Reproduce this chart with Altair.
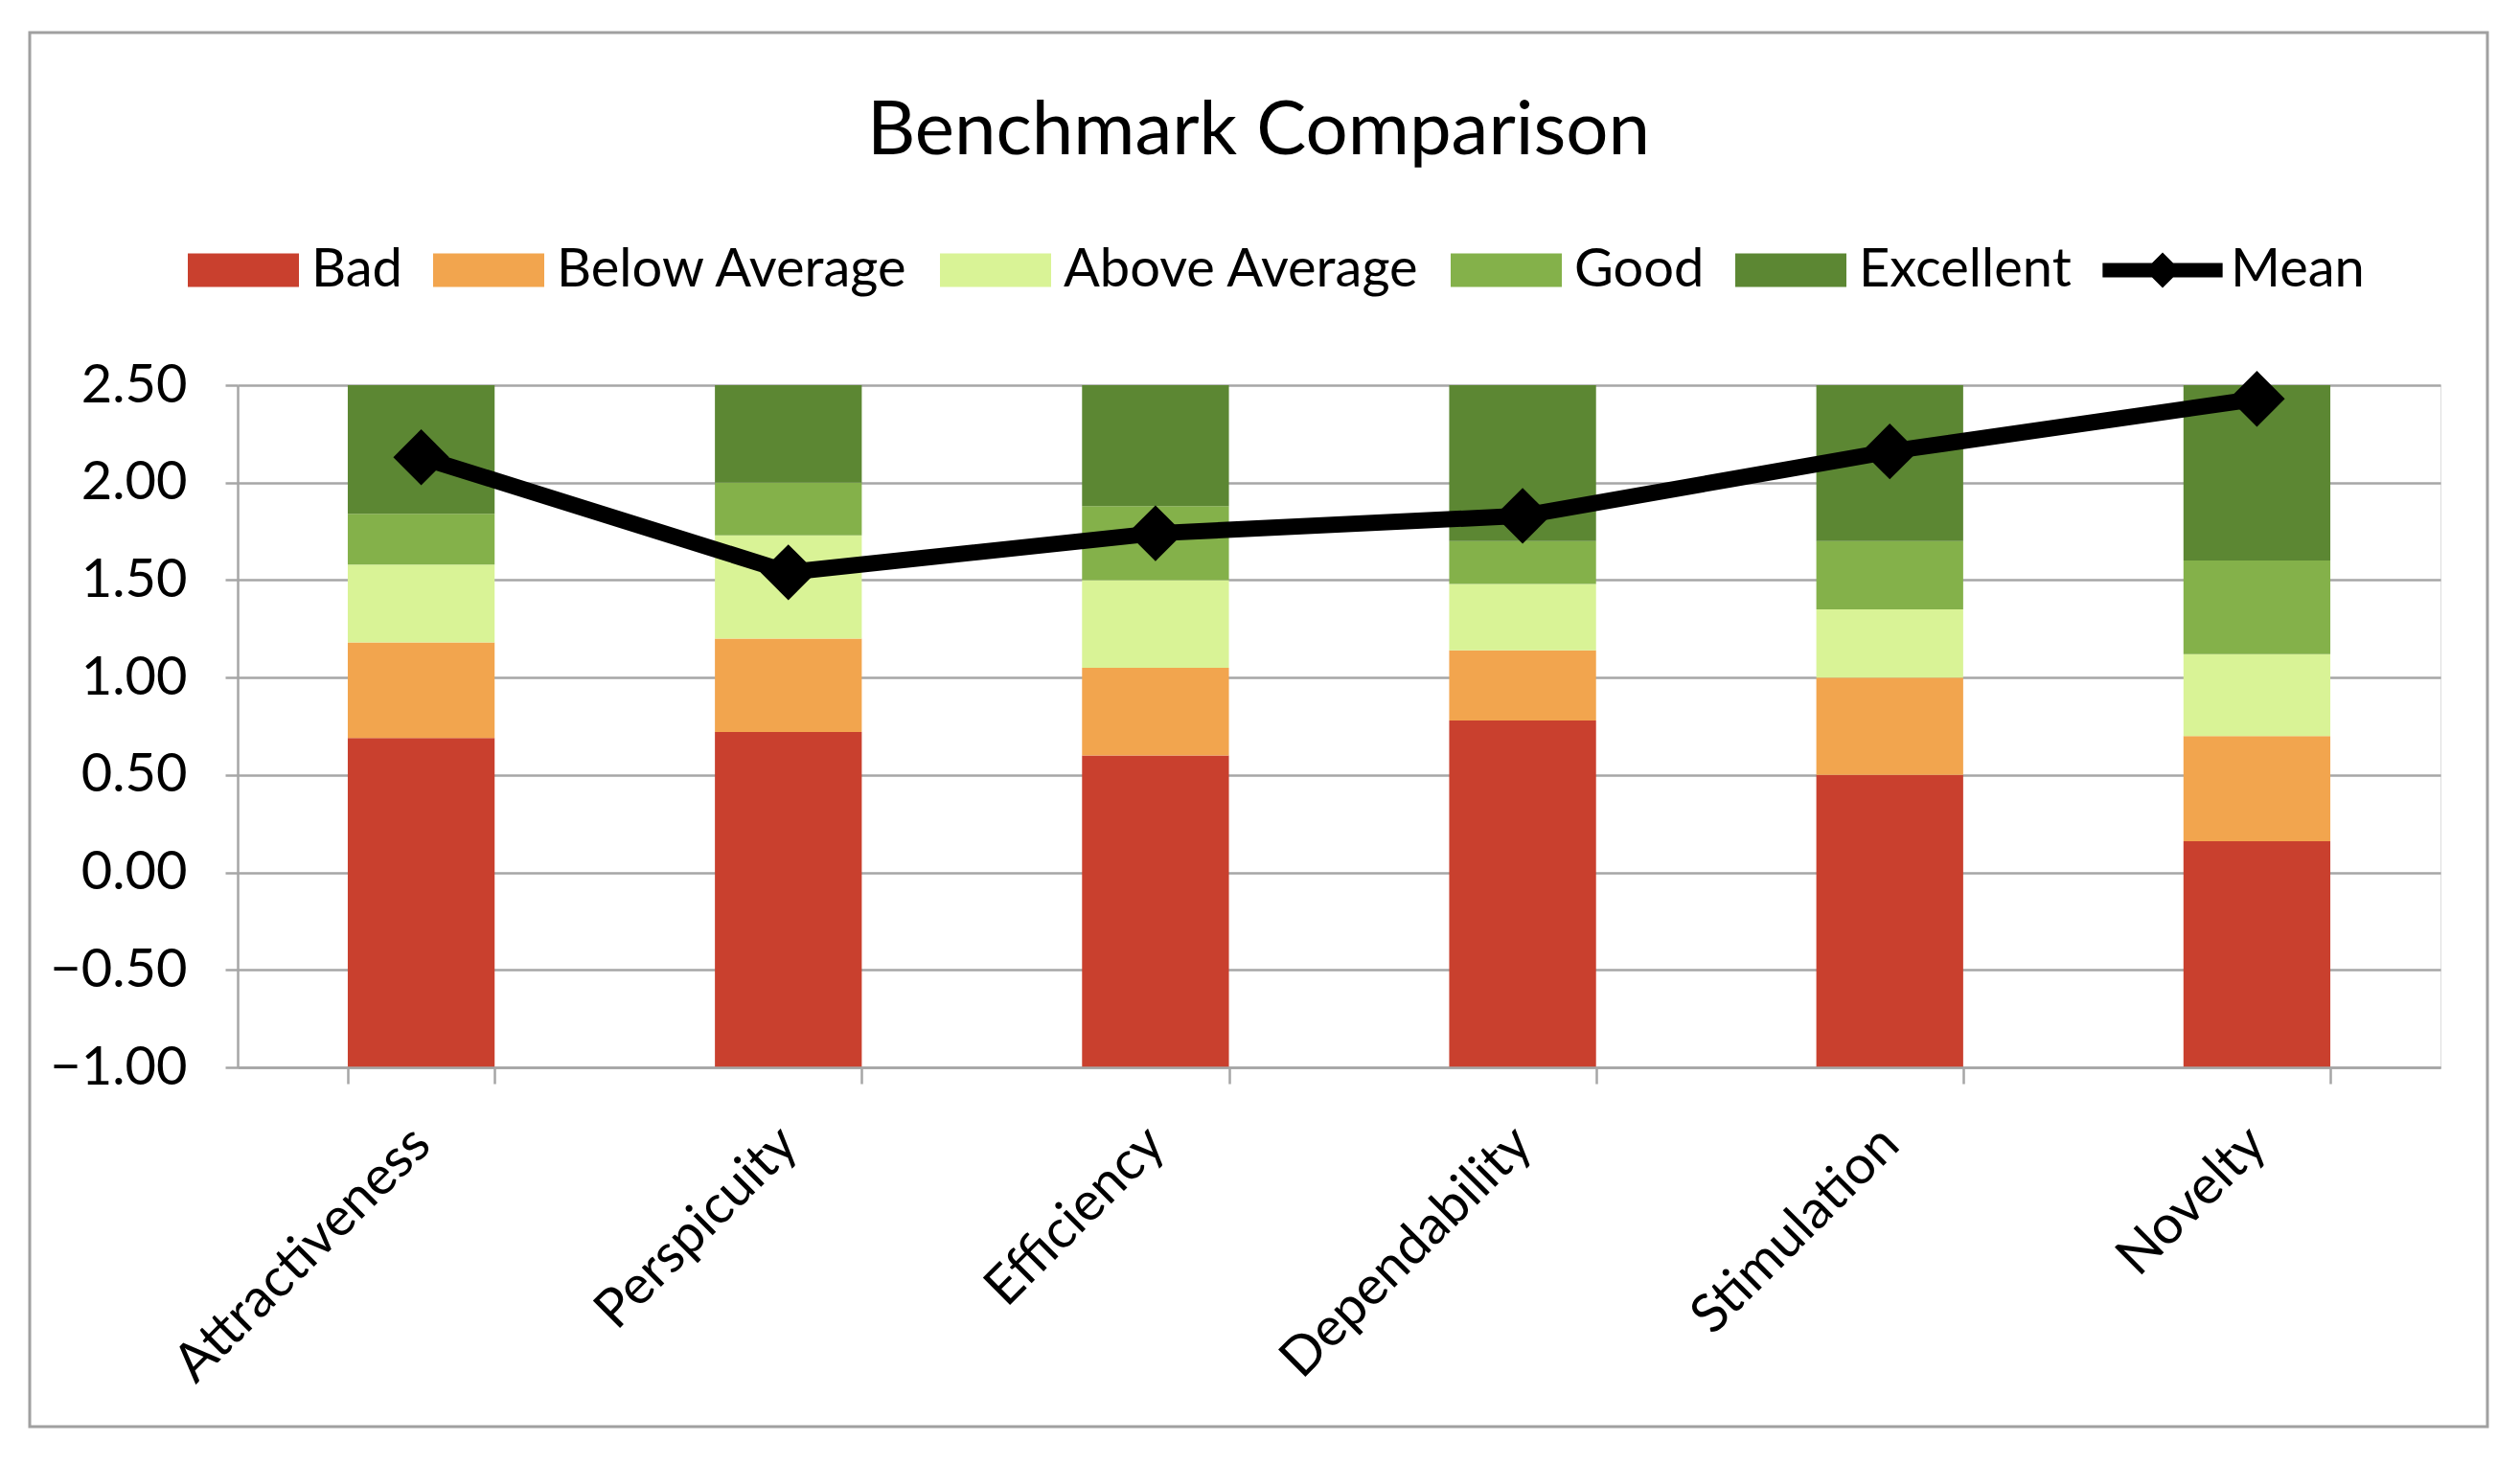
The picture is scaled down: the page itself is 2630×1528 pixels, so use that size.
import altair as alt
import pandas as pd

# ---- data ----
categories = ["Attractiveness", "Perspicuity", "Efficiency", "Dependability", "Stimulation", "Novelty"]
bands = ["Bad", "Below Average", "Above Average", "Good", "Excellent"]
axis_min = -1.00
bad_top = [0.69, 0.72, 0.60, 0.78, 0.50, 0.16]
below_top = [1.18, 1.20, 1.05, 1.14, 1.00, 0.70]
above_top = [1.58, 1.73, 1.50, 1.48, 1.35, 1.12]
good_top = [1.84, 2.00, 1.88, 1.70, 1.70, 1.60]
excellent_top = [2.50, 2.50, 2.50, 2.50, 2.50, 2.50]
mean = [2.13, 1.54, 1.74, 1.83, 2.16, 2.43]

band_colors = ["#C9402E", "#F2A54E", "#D9F396", "#84B14A", "#5C8733"]
legend_items = bands + ["Mean"]
legend_colors = band_colors + ["#000000"]

rect_path = "M-1,-0.3L1,-0.3L1,0.3L-1,0.3Z"
mean_path = ("M-1.08,-0.13L-0.19,-0.13L0,-0.32L0.19,-0.13L1.08,-0.13"
             "L1.08,0.13L0.19,0.13L0,0.32L-0.19,0.13L-1.08,0.13Z")
legend_shapes = [rect_path] * 5 + [mean_path]

# ---- tables ----
tops = [bad_top, below_top, above_top, good_top, excellent_top]
rows = []
for ci, cat in enumerate(categories):
    lo = axis_min
    for bi, b in enumerate(bands):
        hi = tops[bi][ci]
        rows.append({"category": cat, "band": b, "lo": lo, "hi": hi})
        lo = hi
bars_df = pd.DataFrame(rows)
mean_df = pd.DataFrame({"category": categories, "mean": mean})
frame_df = pd.DataFrame({"frame": [0]})

W, H = 2299, 712
FONT = "Lato"
GRID = "#A6A6A6"

x_enc = alt.X("category:N", sort=categories,
              scale=alt.Scale(paddingInner=0.6, paddingOuter=0.3),
              axis=alt.Axis(title=None, labelAngle=-45, labelAlign="right",
                            labelBaseline="middle", labelFont=FONT, labelFontSize=56,
                            labelColor="#000000", labelPadding=54, tickBand="extent",
                            tickSize=17, tickWidth=2.5, tickColor=GRID, labelLimit=800,
                            domainColor=GRID, domainWidth=2.5, grid=False, zindex=1))
y_scale = alt.Scale(domain=[-1, 2.5], nice=False, zero=False)

color_scale = alt.Scale(domain=legend_items, range=legend_colors)
shape_scale = alt.Scale(domain=legend_items, range=legend_shapes)
legend = alt.Legend(title=None, orient="none", legendX=-52, legendY=-178,
                    direction="horizontal", labelFont=FONT, labelFontSize=56,
                    labelColor="#000000", symbolSize=13456, symbolStrokeWidth=0,
                    symbolOpacity=1, labelOffset=13, columnPadding=32, labelLimit=800)

frame = alt.Chart(frame_df).mark_rect(fill="transparent", stroke="#A0A0A0", strokeWidth=3).encode(
    x=alt.value(-217), x2=alt.value(W + 49), y=alt.value(-368), y2=alt.value(H + 375))

bars = alt.Chart(bars_df).mark_bar().encode(
    x=x_enc,
    y=alt.Y("lo:Q", scale=y_scale,
            axis=alt.Axis(title=None, values=[-1, -0.5, 0, 0.5, 1, 1.5, 2, 2.5], format=".2f",
                          labelFont=FONT, labelFontSize=56, labelColor="#000000",
                          labelPadding=40, tickSize=13, tickWidth=2.5, tickColor=GRID,
                          domainColor=GRID, domainWidth=2.5, gridColor=GRID, gridWidth=2.5)),
    y2="hi:Q",
    color=alt.Color("band:N", scale=color_scale, legend=legend),
)

legend_layer = alt.Chart(bars_df).mark_point(filled=True, opacity=1).encode(
    x=alt.X("category:N", sort=categories),
    y=alt.Y("hi:Q", scale=y_scale),
    color=alt.Color("band:N", scale=color_scale, legend=legend),
    shape=alt.Shape("band:N", scale=shape_scale, legend=legend),
).transform_filter("false")

line = alt.Chart(mean_df).mark_line(color="#000000", strokeWidth=17).encode(
    x=alt.X("category:N", sort=categories), y=alt.Y("mean:Q", scale=y_scale))
points = alt.Chart(mean_df).mark_point(shape="diamond", filled=True, size=3400,
                                       color="#000000", opacity=1).encode(
    x=alt.X("category:N", sort=categories), y=alt.Y("mean:Q", scale=y_scale))

chart = alt.layer(frame, bars, legend_layer, line, points).properties(
    width=W, height=H,
    title=alt.TitleParams("Benchmark Comparison", font=FONT, fontSize=78, fontWeight="normal",
                          color="#000000", anchor="middle", frame="group", dx=-84, offset=-144),
    padding={"left": 240, "top": 394, "right": 60, "bottom": 400},
    autosize=alt.AutoSizeParams(type="none"),
).configure_view(stroke=None).configure(background="white")

chart.save("out.html", embed_options={"renderer": "svg", "actions": False})
